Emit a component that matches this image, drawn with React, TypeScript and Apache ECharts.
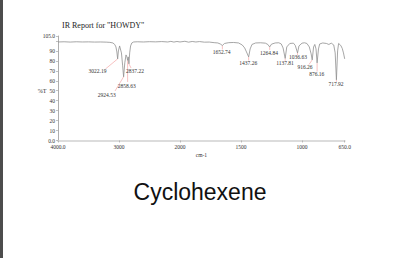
import React, { useEffect, useRef } from "react";
import * as echarts from "echarts";

// ---- data ----
const wavenumbers = [
  4000, 3900, 3800, 3700, 3600, 3500, 3400, 3300, 3200, 3150, 3100, 3070, 3050, 3035,
  3022.19, 3010, 2990, 2960, 2940, 2924.53, 2905, 2885, 2870, 2858.63, 2848, 2837.22,
  2825, 2810, 2790, 2760, 2700, 2600, 2500, 2400, 2300, 2200, 2150, 2100, 2050, 2000,
  1960, 1930, 1900, 1870, 1840, 1800, 1760, 1720, 1690, 1670, 1652.74, 1635, 1600, 1560,
  1520, 1490, 1470, 1455, 1437.26, 1425, 1410, 1380, 1340, 1300, 1280, 1264.84, 1250,
  1220, 1190, 1170, 1155, 1137.81, 1125, 1100, 1070, 1055, 1036.63, 1025, 1000, 980, 960,
  940, 925, 916.26, 905, 895, 885, 876.16, 865, 855, 830, 800, 780, 760, 740, 728,
  717.92, 708, 700, 690, 680, 670, 660, 650,
];
const transmittance = [
  99.0, 99.2, 98.9, 99.2, 99.0, 99.1, 98.9, 99.0, 98.8, 98.6, 98.0, 96.5, 94.0, 89.0,
  82.0, 90.0, 95.0, 88.0, 75.0, 64.0, 78.0, 86.0, 84.0, 80.5, 84.0, 77.0,
  88.0, 95.0, 98.0, 99.0, 99.2, 99.0, 99.3, 99.1, 99.4, 99.0, 99.6, 98.9, 99.5, 99.0,
  99.7, 98.8, 99.5, 99.0, 99.4, 98.8, 98.9, 98.3, 98.0, 97.0, 95.5, 97.5, 98.3, 98.5,
  98.0, 96.0, 93.0, 89.0, 84.0, 92.0, 96.5, 98.0, 98.2, 97.8, 96.5, 94.0, 96.8,
  98.0, 98.2, 97.0, 93.0, 82.5, 94.0, 97.5, 97.8, 95.5, 88.0, 95.0, 97.8, 98.2, 97.5,
  94.0, 87.0, 81.0, 94.0, 96.5, 92.0, 78.0, 92.0, 97.0, 98.0, 97.5, 96.5, 97.8, 96.0, 88.0,
  61.0, 90.0, 97.5, 96.5, 95.0, 92.5, 88.0, 82.0,
];

const peakWavenumbers = [3022.19, 2924.53, 2858.63, 2837.22, 1652.74, 1437.26, 1264.84, 1137.81, 1036.63, 916.26, 876.16, 717.92];
const peakTransmittance = [82.0, 64.0, 80.5, 77.0, 95.5, 84.0, 94.0, 82.5, 88.0, 81.0, 78.0, 61.0];
const peakLabels = ["3022.19", "2924.53", "2858.63", "2837.22", "1652.74", "1437.26", "1264.84", "1137.81", "1036.63", "916.26", "876.16", "717.92"];

const xTickLabels: Record<number, string> = { 0: "4000.0", 500: "3000", 1000: "2000", 1500: "1500", 2000: "1000", 2350: "650.0" };

// ---- layout (pixel offsets of each peak label / leader-line end from its peak) ----
const labelLayout = [
  [-20.2, 12.1, -12.2, 10.1],
  [-16.9, 18.2, -8.6, 14.2],
  [-0.9, 25.3, 0, 21.6],
  [6.1, 6.8, 2.1, 4.1],
  [-0.7, 6.8, 0, 4],
  [-0.4, 6.4, 0, 3.6],
  [-0.7, 5.7, 0, 3],
  [-0.2, 4.9, 0, 2.4],
  [0.5, 4.4, 0, 2],
  [-7.2, 7.4, -3.2, 4.6],
  [-0.4, 11.4, 0, 8.6],
  [-0.4, 4.5, 0, 2],
];

// IR spectra use a scale change at 2000 cm-1 (half compression above 2000)
const toAxis = (w: number) => (w >= 2000 ? (4000 - w) / 2 : 1000 + (2000 - w));

const SERIF = "'Liberation Serif', 'Times New Roman', serif";

export default function App() {
  const ref = useRef<HTMLDivElement>(null);
  useEffect(() => {
    if (!ref.current) return;
    const chart = echarts.init(ref.current, null, { renderer: "svg" });
    const lineData = wavenumbers.map((w, i) => [toAxis(w), transmittance[i]]);
    const peakData = peakWavenumbers.map((w, i) => [toAxis(w), peakTransmittance[i], i]);
    chart.setOption({
      animation: false,
      backgroundColor: "#ffffff",
      title: {
        text: 'IR Report for "HOWDY"',
        left: 57,
        top: 16,
        textStyle: { fontFamily: SERIF, fontSize: 8, fontWeight: "normal", color: "#222" },
      },
      grid: { left: 58, top: 36, width: 286.7, height: 104.5 },
      xAxis: {
        type: "value",
        min: 0,
        max: 2350,
        interval: 500,
        name: "cm-1",
        nameLocation: "middle",
        nameGap: 11,
        nameTextStyle: { fontFamily: SERIF, fontSize: 5.5, color: "#333" },
        axisLine: { show: true, lineStyle: { color: "#dcdcdc", width: 2 } },
        axisTick: { show: true, length: 2, lineStyle: { color: "#999", width: 0.6 } },
        axisLabel: {
          fontFamily: SERIF,
          fontSize: 5.5,
          color: "#333",
          margin: 3,
          showMaxLabel: true,
          formatter: (v: number) => xTickLabels[v] ?? "",
        },
        splitLine: { show: false },
      },
      yAxis: {
        type: "value",
        min: 0,
        max: 105,
        interval: 10,
        axisLine: { show: true, lineStyle: { color: "#999", width: 0.8 } },
        axisTick: { show: true, length: 2, lineStyle: { color: "#999", width: 0.6 } },
        axisLabel: {
          fontFamily: SERIF,
          fontSize: 5.5,
          color: "#333",
          margin: 3,
          showMaxLabel: true,
          formatter: (v: number) => (v === 0 ? "0.0" : v === 105 ? "105.0" : v === 100 ? "" : String(v)),
        },
        splitLine: { show: false },
      },
      series: [
        {
          type: "line",
          data: lineData,
          symbol: "none",
          lineStyle: { color: "#8f8f8f", width: 0.8 },
          z: 3,
        },
        {
          type: "custom",
          data: peakData,
          z: 2,
          renderItem: (params: any, api: any) => {
            const p = api.coord([api.value(0), api.value(1)]);
            const idx = api.value(2) as number;
            const lay = labelLayout[idx];
            return {
              type: "group",
              children: [
                {
                  type: "line",
                  shape: { x1: p[0], y1: p[1], x2: p[0] + lay[2], y2: p[1] + lay[3] },
                  style: { stroke: "#f3a6a6", lineWidth: 0.7 },
                },
                {
                  type: "text",
                  x: p[0] + lay[0],
                  y: p[1] + lay[1],
                  style: {
                    text: peakLabels[idx],
                    fontFamily: SERIF,
                    fontSize: 5.5,
                    fill: "#333",
                    align: "center",
                    verticalAlign: "middle",
                  },
                },
              ],
            };
          },
        },
      ],
      graphic: [
        { type: "rect", left: 0, top: 0, shape: { width: 3, height: 258 }, style: { fill: "#4d4d4d" } },
        {
          type: "text",
          x: 42,
          y: 91,
          style: { text: "%T", fontFamily: SERIF, fontSize: 6, fill: "#333", align: "center", verticalAlign: "middle" },
        },
        {
          type: "text",
          x: 200,
          y: 192,
          style: {
            text: "Cyclohexene",
            fontFamily: "'Liberation Sans', Arial, sans-serif",
            fontSize: 23,
            fill: "#111",
            align: "center",
            verticalAlign: "middle",
          },
        },
      ],
    });
    return () => chart.dispose();
  }, []);
  return <div ref={ref} style={{ position: "fixed", left: 0, top: 0, width: 400, height: 258 }} />;
}
